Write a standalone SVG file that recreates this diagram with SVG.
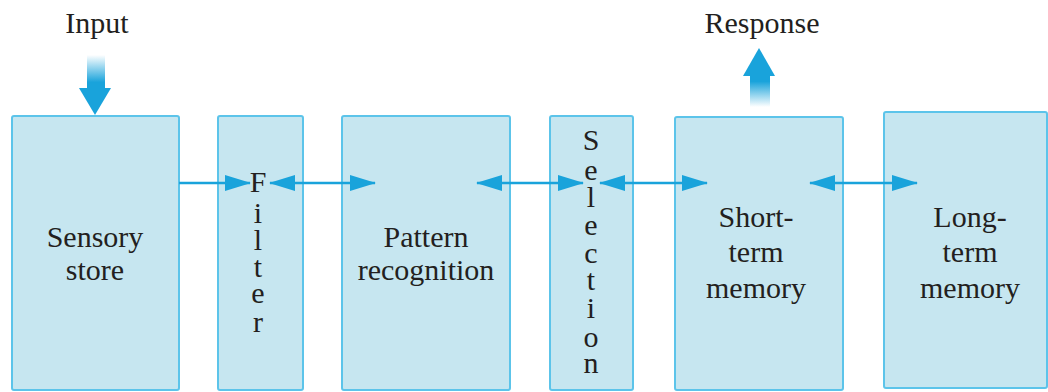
<svg xmlns="http://www.w3.org/2000/svg" width="1048" height="392" viewBox="0 0 1048 392">
<style>
.box{fill:#c6e6f0;stroke:#5cc4ea;stroke-width:2}
.t{font-family:"Liberation Serif","Times New Roman",serif;font-size:30px;fill:#231f20;text-anchor:middle}
.c{stroke:#19a3db;stroke-width:2.5;fill:none}
</style>
<defs>
<marker id="ah" markerUnits="userSpaceOnUse" markerWidth="26" markerHeight="16" refX="25" refY="8" orient="auto-start-reverse" viewBox="0 0 26 16">
<path d="M0,0 L26,8 L0,16 Z" fill="#19a3db"/>
</marker>
<linearGradient id="gin" x1="0" y1="0" x2="0" y2="1">
<stop offset="0" stop-color="#ffffff"/>
<stop offset="0.8" stop-color="#19a3db"/>
</linearGradient>
<linearGradient id="gout" x1="0" y1="0" x2="0" y2="1">
<stop offset="0.2" stop-color="#19a3db"/>
<stop offset="1" stop-color="#ffffff"/>
</linearGradient>
</defs>
<g id="input">
<text class="t" x="97" y="33">Input</text>
<rect x="87" y="55" width="18" height="34" fill="url(#gin)"/>
<polygon points="79,88 111,88 95,115" fill="#19a3db"/>
</g>
<g id="response">
<text class="t" x="762" y="33">Response</text>
<rect x="750" y="75" width="20" height="32" fill="url(#gout)"/>
<polygon points="743,76 775,76 759,48" fill="#19a3db"/>
</g>
<g id="sensory">
<rect class="box" x="12" y="116" width="167" height="274" rx="2"/>
<text class="t" x="95" y="247">Sensory</text>
<text class="t" x="95" y="280">store</text>
</g>
<g id="filter">
<rect class="box" x="218" y="116" width="85" height="274" rx="2"/>
<text class="t" x="258" y="192">F</text>
<text class="t" x="258" y="223">i</text>
<text class="t" x="258" y="250">l</text>
<text class="t" x="258" y="277">t</text>
<text class="t" x="258" y="303">e</text>
<text class="t" x="258" y="332">r</text>
</g>
<g id="pattern">
<rect class="box" x="342" y="116" width="168" height="274" rx="2"/>
<text class="t" x="426" y="247">Pattern</text>
<text class="t" x="426" y="280">recognition</text>
</g>
<g id="selection">
<rect class="box" x="550" y="116" width="83" height="274" rx="2"/>
<text class="t" x="591" y="150">S</text>
<text class="t" x="591" y="180">e</text>
<text class="t" x="591" y="207">l</text>
<text class="t" x="591" y="235">e</text>
<text class="t" x="591" y="263">c</text>
<text class="t" x="591" y="290">t</text>
<text class="t" x="591" y="318">i</text>
<text class="t" x="591" y="347">o</text>
<text class="t" x="591" y="373">n</text>
</g>
<g id="stm">
<rect class="box" x="675" y="117" width="168" height="273" rx="2"/>
<text class="t" x="756" y="227">Short-</text>
<text class="t" x="756" y="262">term</text>
<text class="t" x="756" y="298">memory</text>
</g>
<g id="ltm">
<rect class="box" x="884" y="112" width="163" height="276" rx="2"/>
<text class="t" x="970" y="227">Long-</text>
<text class="t" x="970" y="262">term</text>
<text class="t" x="970" y="298">memory</text>
</g>
<g id="connectors">
<line class="c" x1="179" y1="183" x2="250" y2="183" marker-end="url(#ah)"/>
<line class="c" x1="270" y1="183" x2="375" y2="183" marker-start="url(#ah)" marker-end="url(#ah)"/>
<line class="c" x1="477" y1="183" x2="583" y2="183" marker-start="url(#ah)" marker-end="url(#ah)"/>
<line class="c" x1="600" y1="183" x2="707" y2="183" marker-start="url(#ah)" marker-end="url(#ah)"/>
<line class="c" x1="810" y1="183" x2="917" y2="183" marker-start="url(#ah)" marker-end="url(#ah)"/>
</g>
</svg>
